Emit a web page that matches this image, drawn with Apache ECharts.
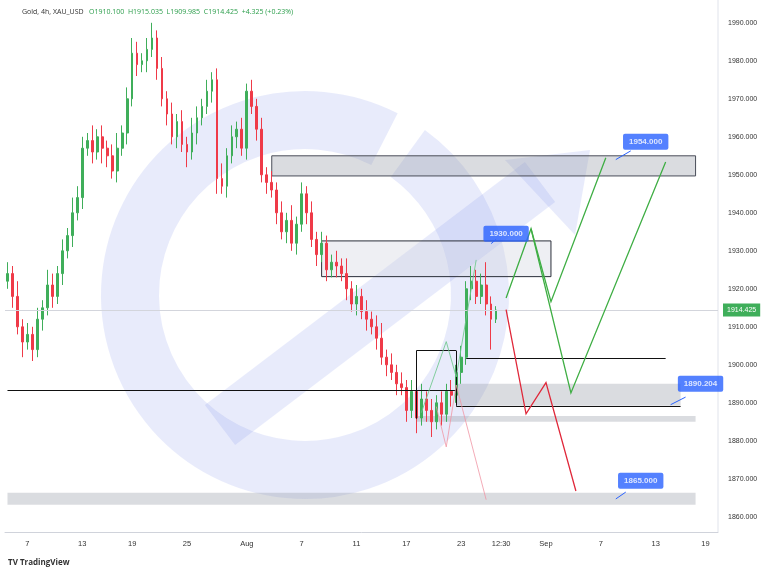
<!DOCTYPE html><html><head><meta charset="utf-8">
<script src="https://cdn.jsdelivr.net/npm/echarts@6/dist/echarts.min.js"></script>
<style>html,body{margin:0;padding:0;background:#fff}#c{width:768px;height:576px}</style></head><body><div id="c"></div>
<script>
// ---- data ----
const firstOpen = 1922;
const closes = [1924,1918,1910,1906,1908, 1904,1912,1915,1921,1918, 1924,1930,1934,1940,1944,
 1957,1959,1956,1960,1957, 1955,1951,1957,1961,1970, 1982,1979,1980,1983,1986,
 1978,1970,1966,1960,1964, 1958,1956,1961,1965,1968, 1972,1975,1949,1947,1955,
 1960,1962,1957,1972,1968, 1962,1950,1948,1946,1940, 1935,1938,1932,1937,1945,
 1940,1933,1929,1932,1925, 1927,1926,1924,1920,1916, 1918,1914,1912,1910,1907,
 1902,1900,1898,1895,1894, 1888,1893,1886,1891,1888, 1885,1890,1887,1893,1892,
 1898,1902,1920,1922,1918, 1921,1916,1912,1914.425];
const upWick = [3,2,4,2,3, 2,3,2,4,3, 2,3,2,4,3, 3,2,4,2,3, 2,3,4,2,3, 4,3,2,3,4,
 2,3,2,3,2, 3,2,4,3,2, 3,2,3,4,2, 3,2,3,2,3, 2,3,2,3,2, 3,2,4,2,3, 2,3,2,3,2,
 2,3,2,4,2, 3,2,3,2,3, 4,2,3,2,3, 2,3,2,4,2, 3,2,3,2,3, 2,3,2,4,3, 3,6,2,1];
const downWick = [2,3,2,4,2, 3,2,3,2,3, 2,3,2,3,2, 3,2,3,2,4, 3,2,3,2,3, 2,3,2,3,2,
 3,2,3,2,3, 2,4,2,3,2, 2,3,4,2,3, 2,3,2,3,2, 3,2,3,2,3, 2,3,2,3,2, 3,2,3,2,3,
 2,3,2,3,2, 3,2,3,2,3, 2,3,2,3,2, 3,2,4,2,3, 4,2,3,2,3, 2,3,2,3,2, 2,3,8,1];
const totalCats = 143;
const dateLabels = {4:'7',15:'13',25:'19',36:'25',48:'Aug',59:'7',70:'11',80:'17',91:'23',99:'12:30',108:'Sep',119:'7',130:'13',140:'19'};
const lastPrice = 1914.425;
// zones: [x1,x2,pLow,pHigh,kind]
const zones = [[52.5,138.1,1949.7,1955.0,'dark'],[63.1,108.9,1923.2,1932.6,'light'],[89.5,134.5,1889.2,1895.0,'mid'],
 [82.1,138.1,1885.0,1886.5,'thin'],[-0.5,138.1,1863.2,1866.3,'thin']];
// segments: [[i,p],[i,p]]
const levelLines = [[[-0.5,1893.2],[89.5,1893.2]],[[92.1,1901.6],[132.1,1901.6]],[[82.1,1903.7],[89.5,1903.7]],
 [[82.1,1903.7],[82.1,1885.8]],[[89.5,1903.7],[89.5,1889.2]],[[89.5,1889.2],[134.5,1889.2]]];
const greenPaths = [[[99.7,1917.6],[104.7,1935.8],[108.7,1916.6],[119.9,1954.5]],[[104.7,1935.8],[113.3,1892.6],[132.1,1953.4]]];
const redPaths = [[[99.7,1914.5],[104.1,1887.1],[107.5,1895.3],[113.7,1866.8]]];
const lightGreenPaths = [[[82.5,1887.4],[87.5,1906.1],[89.9,1896.8],[93.5,1927.6]]];
const pinkPaths = [[[86,1889],[87.5,1878.4],[89.5,1894.7],[96.1,1864.5]]];
const priceTags = [[128.1,1958.7,'1954.000'],[99.5,1934.5,'1930.000'],[138.6,1895.0,'1890.204'],[127.1,1869.5,'1865.000']];
const tagPointers = [[[121.5,1954],[124.5,1956.3]],[[96.5,1931.9],[98,1933]],[[133,1889.5],[135.5,1891.5]],[[121.5,1864.7],[123.5,1866.5]]];

// ---- build ----
const cats = Array.from({length: totalCats}, (_, i) => String(i));
const candles = closes.map((c, i) => {
  const o = i === 0 ? firstOpen : closes[i-1];
  return [o, c, Math.min(o,c) - downWick[i], Math.max(o,c) + upWick[i]];
});
const chart = echarts.init(document.getElementById('c'));
const UP='#3fae5a', DN='#ef3a48';
const WM='rgba(120,135,230,0.17)';
function pathSeries(paths, color, width){
  return {type:'lines', coordinateSystem:'cartesian2d', polyline:true, z:5,
    symbol:['none','arrow'], symbolSize:8,
    lineStyle:{color, width, opacity:1}, data: paths.map(p=>({coords:p}))};
}
chart.setOption({
  animation:false,
  grid:{left:5,right:50,top:0,bottom:44},
  graphic:[
    {type:'arc', shape:{cx:305,cy:295,r:175,startAngle:-0.35*Math.PI,endAngle:1.7*Math.PI,clockwise:false}, style:{stroke:WM,lineWidth:58,fill:null}, z:0, silent:true},
    {type:'line', shape:{x1:220,y1:425,x2:540,y2:182}, style:{stroke:WM,lineWidth:50}, z:0},
    {type:'polygon', shape:{points:[[505,160],[590,150],[575,235]]}, style:{fill:WM}, z:0},
    {type:'text', left:22, top:8, style:{text:'Gold, 4h, XAU_USD', fill:'#333', font:'7px "Open Sans"'}},
    {type:'text', left:89, top:8, style:{text:'O1910.100  H1915.035  L1909.985  C1914.425  +4.325 (+0.23%)', fill:'#2a9d4a', font:'7px "Open Sans"'}},
    {type:'text', left:8, top:559, style:{text:'TV TradingView', fill:'#333', font:'bold 8px "Open Sans"'}},
    {type:'line', shape:{x1:718,y1:0,x2:718,y2:532}, style:{stroke:'#e0e3eb',lineWidth:1}}
  ],
  xAxis:{type:'category', data:cats, boundaryGap:true,
    axisLine:{lineStyle:{color:'#d0d3db'}}, axisTick:{show:false}, splitLine:{show:false},
    axisLabel:{interval:0, color:'#333', fontSize:7.5, margin:8, formatter:(v)=>dateLabels[+v]||''}},
  yAxis:{type:'value', position:'right', min:1856, max:1996, interval:2, scale:true,
    axisLine:{show:false}, axisTick:{show:false}, splitLine:{show:false},
    axisLabel:{color:'#333', fontSize:7, margin:10, formatter:(v)=> (Math.round(v)%10===0 && v<1995 && v>1857)? v.toFixed(3):''}},
  series:[
    {type:'custom', z:2, renderItem:(params, api)=>{
        const a=api.coord([api.value(0),api.value(3)]), b=api.coord([api.value(1),api.value(2)]);
        const k=zones[params.dataIndex][4];
        const fill = k==='light'?'rgba(205,210,220,0.35)':'rgba(150,155,165,0.35)';
        const stroke = k==='dark'?'#4a4e59':(k==='light'?'#2a2e39':'rgba(0,0,0,0)');
        return {type:'rect', shape:{x:a[0],y:a[1],width:b[0]-a[0],height:b[1]-a[1]}, style:{fill, stroke, lineWidth:1}};
      }, data: zones.map(z=>z.slice(0,4))},
    {type:'candlestick', z:3, data:candles, barWidth:2.2,
      itemStyle:{color:UP,color0:DN,borderColor:UP,borderColor0:DN},
      markLine:{symbol:'none', silent:true, lineStyle:{color:'#d3d5dc',type:'solid',width:1},
        label:{position:'end', formatter:()=>lastPrice.toFixed(3), backgroundColor:UP, color:'#fff', fontSize:7, padding:[3,4]},
        data:[{yAxis:lastPrice}]}},
    {type:'lines', coordinateSystem:'cartesian2d', z:4, lineStyle:{color:'#111',width:1,opacity:1}, data:levelLines.map(p=>({coords:p}))},
    pathSeries(lightGreenPaths,'rgba(110,200,140,0.85)',1),
    pathSeries(pinkPaths,'rgba(240,150,165,0.8)',1),
    pathSeries(greenPaths,'#3fae44',1.3),
    pathSeries(redPaths,'#e0283a',1.3),
    {type:'lines', coordinateSystem:'cartesian2d', z:6, lineStyle:{color:'#2962ff',width:1,opacity:1}, data:tagPointers.map(p=>({coords:p}))},
    {type:'scatter', z:7, symbolSize:0, data:priceTags.map(t=>[t[0],t[1],t[2]]),
      label:{show:true, position:'inside', formatter:(p)=>p.data[2], backgroundColor:'#2962ff', color:'#fff', fontSize:8, fontWeight:'bold', padding:[4,6], borderRadius:2}}
  ]
});
</script></body></html>
